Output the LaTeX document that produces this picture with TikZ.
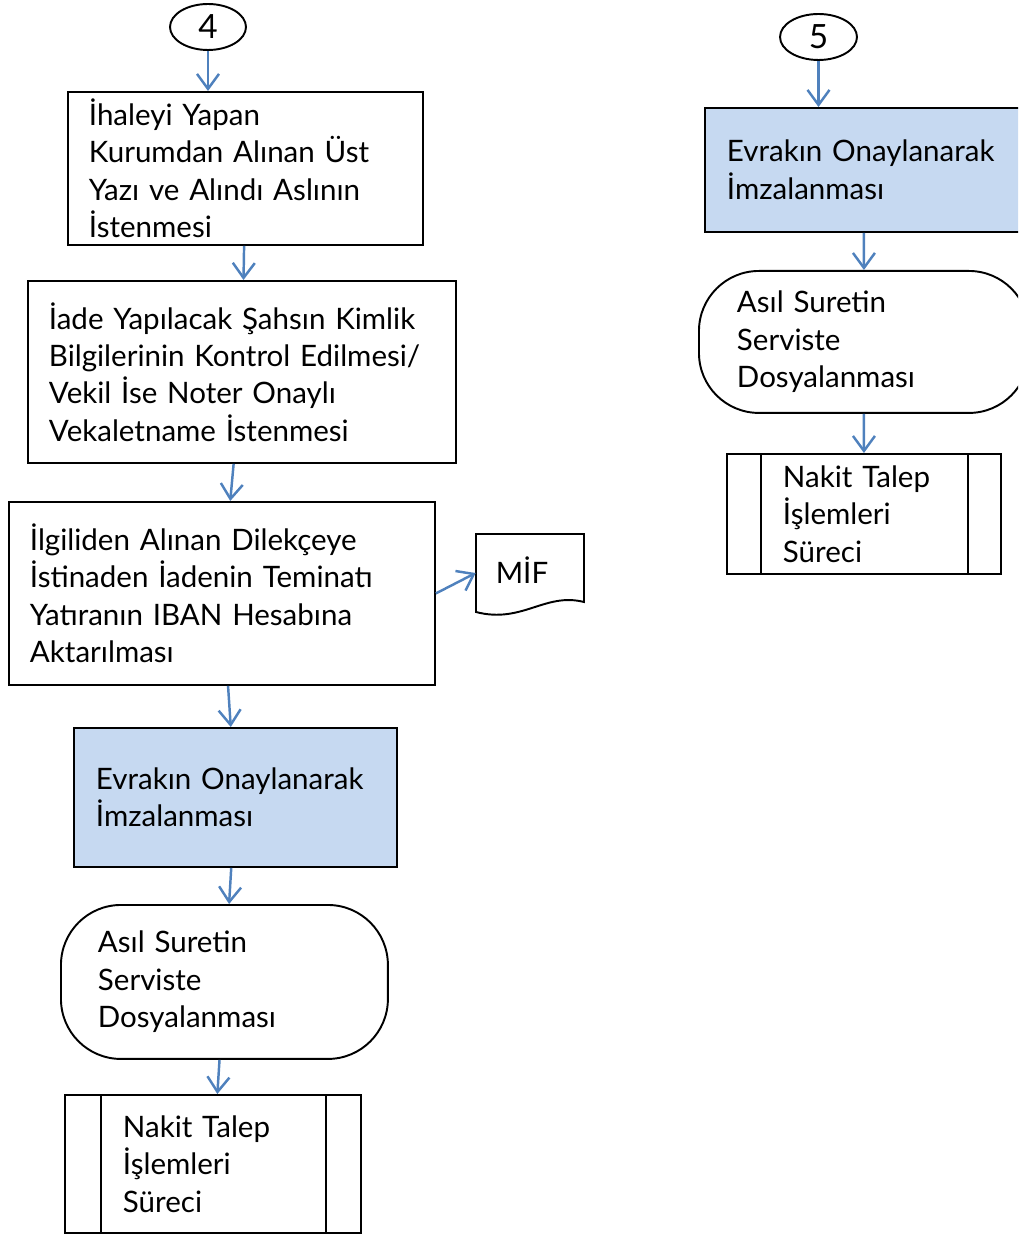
\documentclass[tikz,border=0pt]{standalone}
\usepackage{fontspec}
\setmainfont{Lato}
\usetikzlibrary{arrows.meta,shapes.geometric}
\definecolor{arrowblue}{HTML}{4F81BD}
\definecolor{boxblue}{HTML}{C6D9F1}

\begin{document}
\begin{tikzpicture}
[x=0.02cm,y=-0.02cm,>={Straight Barb[length=0.3cm,width=0.44cm]},
every node/.style={font=\fontsize{16.8}{21.3}\selectfont},
box/.style={draw, line width=1.1pt, anchor=north west, align=left, inner ysep=0pt},
onay/.style={box, fill=boxblue},
dosya/.style={box, rounded corners=1.2cm},
connector/.style={draw, ellipse, line width=1.1pt, inner sep=0pt, font=\fontsize{19}{21}\selectfont},
flow/.style={draw=arrowblue, line width=1.4pt, ->},]

\path[use as bounding box, clip] (0,0) rectangle (1018,1236);

% left column
\node (c4) at (208,27)[connector, minimum width=1.52cm, minimum height=0.92cm] {4};
\node (b1) at (67,91)[box, text width=6.26cm, inner xsep=0.42cm, minimum height=3.06cm]
{İhaleyi Yapan\\Kurumdan Alınan Üst\\Yazı ve Alındı Aslının\\İstenmesi};
\node (b2) at (27,280)[box, text width=7.72cm, inner xsep=0.42cm, minimum height=3.64cm]
{İade Yapılacak Şahsın Kimlik\\Bilgilerinin Kontrol Edilmesi/\\Vekil İse Noter Onaylı\\Vekaletname İstenmesi};
\node (b3) at (8,501)[box, text width=7.68cm, inner xsep=0.42cm, minimum height=3.66cm]
{İlgiliden Alınan Dilekçeye\\İstinaden İadenin Teminatı\\Yatıranın IBAN Hesabına\\Aktarılması};
\node (mif) at (530,573)[minimum width=2.16cm, minimum height=1.56cm, inner sep=0pt] {};
\node (miftext) at (522,570) {MİF};
\draw[line width=1.1pt] (476,534) -- (584,534) -- (584,602)
  .. controls (545,592) and (522,624) .. (476,612) -- cycle;
\node (b4) at (73,727)[onay, text width=5.58cm, inner xsep=0.44cm, minimum height=2.78cm]
{Evrakın Onaylanarak\\İmzalanması};
\node (t1) at (60,904)[dosya, text width=5.06cm, inner xsep=0.74cm, minimum height=3.08cm]
{Asıl Suretin\\Serviste\\Dosyalanması};
\node (p1) at (64,1094)[box, text width=3.6cm, inner xsep=1.16cm, minimum height=2.76cm]
{Nakit Talep\\İşlemleri\\Süreci};
\draw[line width=1.1pt] ([xshift=0.74cm]p1.north west) -- ([xshift=0.74cm]p1.south west);
\draw[line width=1.1pt] ([xshift=-0.72cm]p1.north east) -- ([xshift=-0.72cm]p1.south east);

% right column
\node (c5) at (818.5,37)[connector, minimum width=1.54cm, minimum height=0.92cm] {5};
\node (b5) at (704,107)[onay, text width=5.48cm, inner xsep=0.44cm, minimum height=2.48cm]
{Evrakın Onaylanarak\\İmzalanması};
\node (t2) at (698,270)[dosya, text width=5.08cm, inner xsep=0.76cm, minimum height=2.84cm]
{Asıl Suretin\\Serviste\\Dosyalanması};
\node (p2) at (726,453)[box, text width=3.24cm, inner xsep=1.12cm, minimum height=2.4cm]
{Nakit Talep\\İşlemleri\\Süreci};
\draw[line width=1.1pt] ([xshift=0.7cm]p2.north west) -- ([xshift=0.7cm]p2.south west);
\draw[line width=1.1pt] ([xshift=-0.68cm]p2.north east) -- ([xshift=-0.68cm]p2.south east);

\draw[flow] (c4) -- (c4 |- b1.north);
\draw[flow] (b1) -- (b2);
\draw[flow] (b2) -- (b3);
\draw[flow] (b3.east) -- (mif.west);
\draw[flow] (b3) -- (b4);
\draw[flow] (b4) -- (t1);
\draw[flow] (t1) -- (p1);
\draw[flow] (c5) -- (c5 |- b5.north);
\draw[flow] (b5) -- (t2);
\draw[flow] (t2) -- (p2);

\end{tikzpicture}
\end{document}
